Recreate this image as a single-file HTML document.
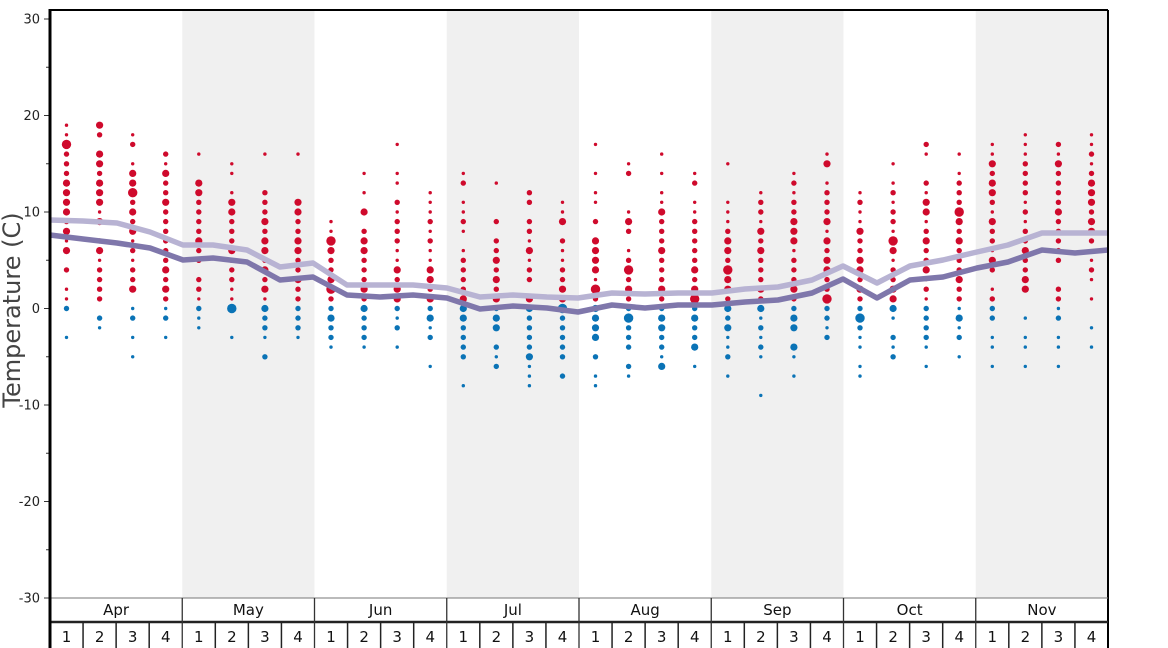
<!DOCTYPE html>
<html><head><meta charset="utf-8"><style>
html,body{margin:0;padding:0;background:#fff;}
svg{display:block;font-family:"DejaVu Sans","Liberation Sans",sans-serif;}
</style></head><body>
<svg id="s" width="1168" height="648" viewBox="0 0 1168 648" xmlns="http://www.w3.org/2000/svg">
<rect x="0" y="0" width="1168" height="648" fill="#fff"/>
<g id="bands"></g>
<g id="dots"></g>
<g id="lines"></g>
<g id="axes"></g>
<text x="0" y="0" transform="translate(20,310) rotate(-90)" text-anchor="middle" font-size="24" fill="#444">Temperature (C)</text>
</svg>
<script>
var NS="http://www.w3.org/2000/svg";
function el(t,a,p,txt){var e=document.createElementNS(NS,t);for(var k in a)e.setAttribute(k,a[k]);if(txt!=null)e.textContent=txt;document.getElementById(p).appendChild(e);return e;}
var X0=50,X1=1108,MW=(X1-X0)/8;
function ty(t){return 308.5-t*9.65;}
[1,3,5,7].forEach(function(m){el('rect',{x:X0+m*MW,y:10,width:MW,height:588,fill:'#f0f0f0'},'bands');});
var data=[
"19:1,18:1,17:4,16:2,15:2,14:2,13:3,12:3,11:3,10:3,9:2,8:3,7:1,6:3,4:2,2:1,1:1,0:2,-3:1",
"19:3,18:2,16:3,15:3,14:2,13:3,12:3,11:3,10:1,9:3,7:2,6:3,5:1,4:2,3:2,2:2,1:2,-1:2,-2:1",
"18:1,17:2,15:1,14:3,13:3,12:4,11:2,10:3,9:2,8:3,7:1,6:2,5:1,4:2,3:2,2:3,0:1,-1:2,-3:1,-5:1",
"16:2,15:1,14:3,13:2,12:2,11:3,10:2,9:2,8:2,7:2,6:2,5:2,4:3,3:2,2:3,1:2,0:1,-1:2,-3:1",
"16:1,13:3,12:3,11:2,10:2,9:2,8:2,7:3,6:2,5:2,3:2,2:2,1:1,0:2,-1:1,-2:1",
"15:1,14:1,12:1,11:3,10:3,9:2,8:2,7:2,6:3,5:2,4:2,3:2,2:1,1:1,0:4,-3:1",
"16:1,12:2,11:2,10:2,9:3,8:2,7:3,6:3,5:2,4:3,3:2,2:3,1:1,0:3,-1:2,-2:2,-3:1,-5:2",
"16:1,11:3,10:3,9:2,8:2,7:3,6:3,5:2,4:2,3:3,2:2,1:2,0:2,-1:2,-2:2,-3:1",
"9:1,8:1,7:4,6:3,5:2,4:2,3:3,2:4,1:2,0:2,-1:3,-2:2,-3:2,-4:1",
"14:1,12:1,10:3,8:2,7:3,6:3,5:2,4:2,3:2,2:3,1:2,0:3,-1:2,-2:2,-3:2,-4:1",
"17:1,14:1,13:1,11:2,10:1,9:2,8:2,7:2,6:1,5:1,4:3,3:2,2:3,1:3,0:2,-1:1,-2:2,-4:1",
"12:1,11:1,10:1,9:2,8:1,7:2,6:1,5:1,4:3,3:3,2:2,1:3,0:2,-1:3,-2:1,-3:2,-6:1",
"14:1,13:2,11:1,10:1,9:2,8:1,6:1,5:2,4:2,3:2,2:2,1:3,0:3,-1:3,-2:2,-3:2,-4:2,-5:2,-8:1",
"13:1,9:2,7:2,6:2,5:3,4:2,3:3,2:2,1:3,0:2,-1:3,-2:3,-4:2,-5:1,-6:2",
"12:2,11:2,9:2,8:2,7:1,6:3,5:1,4:2,3:2,1:3,0:3,-1:2,-2:2,-3:2,-4:2,-5:3,-6:1,-7:1,-8:1",
"11:1,10:1,9:3,7:2,6:1,5:1,4:2,3:2,2:3,1:3,0:4,-1:2,-2:2,-3:2,-4:2,-5:2,-7:2",
"17:1,14:1,12:1,11:1,9:2,7:3,6:3,5:3,4:3,3:1,2:4,1:2,0:3,-1:3,-2:3,-3:3,-5:2,-7:1,-8:1",
"15:1,14:2,10:1,9:3,8:2,6:1,5:2,4:4,3:2,2:3,1:2,0:2,-1:4,-2:2,-3:2,-4:2,-6:2,-7:1",
"16:1,14:1,12:1,11:1,10:3,9:2,8:2,7:2,6:3,5:2,4:2,3:2,2:3,1:2,0:2,-1:3,-2:3,-3:2,-4:2,-5:1,-6:3",
"14:1,13:2,11:1,10:1,9:2,8:2,7:2,6:2,5:2,4:3,3:2,2:3,1:4,0:2,-1:3,-2:2,-3:2,-4:3,-6:1",
"15:1,11:1,10:1,9:1,8:2,7:3,6:3,5:2,4:4,3:3,2:3,1:2,0:3,-1:2,-2:3,-3:1,-4:1,-5:2,-7:1",
"12:1,11:2,10:2,9:1,8:3,7:2,6:3,5:2,4:2,3:2,2:3,1:2,0:3,-1:1,-2:2,-3:1,-4:2,-5:1,-9:1",
"14:1,13:2,12:1,11:2,10:2,9:3,8:3,7:3,6:1,5:2,4:2,3:2,2:3,1:2,0:2,-1:3,-2:3,-4:3,-5:1,-7:1",
"16:1,15:3,13:1,12:2,11:2,10:2,9:3,8:1,7:3,6:2,5:3,4:3,3:2,2:2,1:4,0:2,-1:2,-2:1,-3:2",
"12:1,11:2,10:1,9:1,8:3,7:2,6:2,5:3,4:3,3:2,2:3,1:2,0:2,-1:4,-2:2,-3:1,-4:1,-6:1,-7:1",
"15:1,13:1,12:2,11:1,10:2,9:2,8:1,7:4,6:3,5:1,4:2,3:2,2:3,1:3,0:3,-1:1,-3:2,-4:1,-5:2",
"17:2,16:1,13:2,12:1,11:3,10:3,9:1,8:2,7:3,6:2,5:2,4:3,3:1,2:2,1:1,0:2,-1:2,-2:2,-3:2,-4:1,-6:1",
"16:1,14:1,13:2,12:2,11:2,10:4,9:3,8:2,7:3,6:2,5:2,4:2,3:3,2:2,1:2,0:1,-1:3,-2:1,-3:2,-5:1",
"17:1,16:1,15:3,14:2,13:3,12:3,11:2,10:1,9:3,8:2,7:2,6:1,5:3,4:2,2:1,1:2,0:2,-1:2,-3:1,-4:1,-6:1",
"18:1,17:1,16:1,15:2,14:2,13:2,12:2,11:1,10:2,9:1,8:2,7:2,6:3,5:2,4:2,3:3,2:3,-1:1,-3:1,-4:1,-6:1",
"17:2,16:1,15:3,14:2,13:2,12:2,11:2,10:3,9:2,8:2,7:2,6:2,5:2,2:2,1:2,0:1,-1:2,-3:1,-4:1,-6:1",
"18:1,17:1,16:2,15:1,14:2,13:3,12:3,11:3,10:2,9:3,8:3,7:2,5:1,4:2,3:1,1:1,-2:1,-4:1"
];
var R=[0,1.7,2.7,3.6,4.7];
data.forEach(function(s,i){var cx=X0+MW/8+i*MW/4;
 s.split(',').forEach(function(p){var a=p.split(':'),t=+a[0],sz=+a[1];
  el('circle',{cx:cx.toFixed(1),cy:ty(t).toFixed(1),r:R[sz],fill:t>0?'#cf0a2c':'#0a73b6'},'dots');});});
var light=[[50,220],[83,221],[117,223],[150,232],[183,245],[213,245],[247,250],[280,267],[313,263],[347,285],[380,285],[413,285],[447,288],[480,297],[513,295],[547,297],[578,298],[612,293],[645,294],[678,293],[712,293],[745,289],[778,287],[812,280],[843,266],[877,283],[910,266],[943,260],[977,252],[1008,245],[1042,233],[1075,233],[1108,233]];
var dark=[[50,235],[83,239],[117,243],[150,248],[183,260],[213,258],[247,262],[280,280],[313,277],[347,295],[380,297],[413,295],[447,298],[480,309],[513,306],[547,308],[578,312],[612,305],[645,308],[678,305],[712,305],[745,302],[778,300],[812,293],[843,279],[877,298],[910,280],[943,277],[977,268],[1008,262],[1042,250],[1075,253],[1108,250]];
function pl(a,c){el('polyline',{points:a.map(function(p){return p.join(',')}).join(' '),fill:'none',stroke:c,'stroke-width':5.5,'stroke-linejoin':'round'},'lines');}
pl(light,'#b8b3d3');pl(dark,'#7f77ab');
el('line',{x1:X0,y1:10,x2:X1,y2:10,stroke:'#000','stroke-width':2},'axes');
el('line',{x1:X1,y1:10,x2:X1,y2:648,stroke:'#000','stroke-width':2},'axes');
el('line',{x1:X0,y1:598,x2:X1,y2:598,stroke:'#777','stroke-width':1},'axes');
el('line',{x1:X0,y1:622,x2:X1,y2:622,stroke:'#222','stroke-width':2.5},'axes');
for(var t=-30;t<=30;t+=5){var y=ty(t);
 el('line',{x1:t%10==0?44:46,y1:y,x2:X0,y2:y,stroke:'#333','stroke-width':1},'axes');
 if(t%10==0)el('text',{x:40,y:y+4.5,'text-anchor':'end','font-size':13,fill:'#222'},'axes',String(t));}
var months=['Apr','May','Jun','Jul','Aug','Sep','Oct','Nov'];
months.forEach(function(m,i){var x=X0+i*MW;
 if(i>0)el('line',{x1:x,y1:598,x2:x,y2:648,stroke:'#333','stroke-width':1.3},'axes');
 el('text',{x:x+MW/2,y:615,'text-anchor':'middle','font-size':15,fill:'#111'},'axes',m);
 for(var w=0;w<4;w++){var wx=x+w*MW/4;
  if(w>0)el('line',{x1:wx,y1:622,x2:wx,y2:648,stroke:'#222','stroke-width':1.5},'axes');
  el('text',{x:wx+MW/8,y:642,'text-anchor':'middle','font-size':15,fill:'#111'},'axes',String(w+1));}});
el('line',{x1:X0,y1:9,x2:X0,y2:648,stroke:'#000','stroke-width':3},'axes');
</script>
</body></html>
